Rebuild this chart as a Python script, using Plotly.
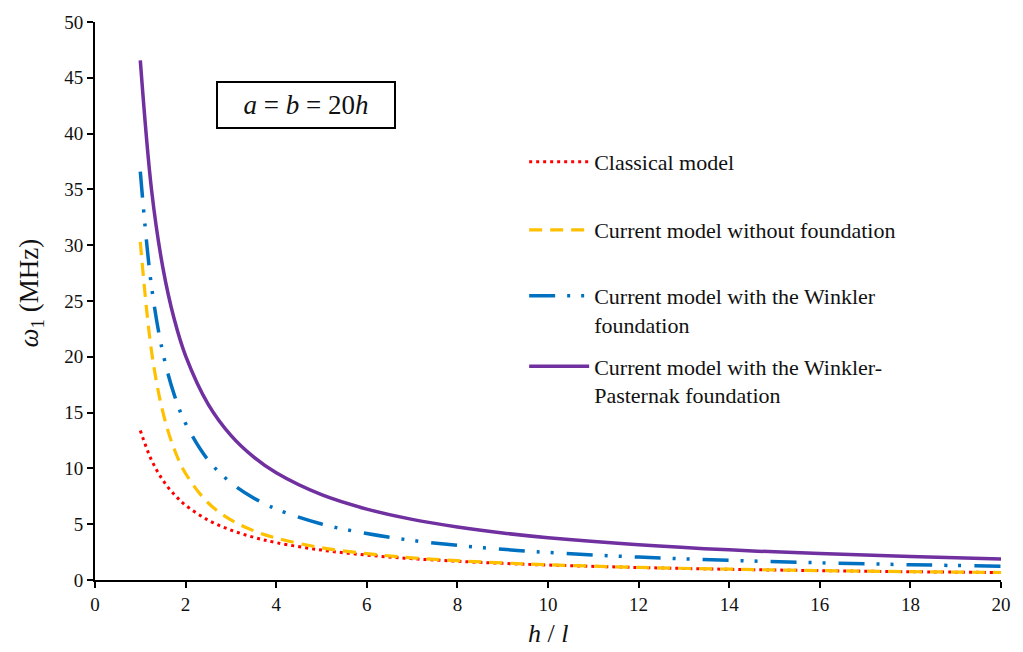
import plotly.graph_objects as go

# h/l values
x_vals = [1, 1.25, 1.5, 1.75, 2, 2.5, 3, 3.5, 4, 5, 6, 7, 8, 9, 10, 12, 14, 16, 18, 20]

classical = [13.40, 10.72, 8.93, 7.66, 6.70, 5.36, 4.47, 3.83, 3.35, 2.68, 2.23, 1.91,
             1.68, 1.49, 1.34, 1.12, 0.96, 0.84, 0.74, 0.67]
no_foundation = [30.29, 20.43, 15.02, 11.72, 9.54, 6.90, 5.39, 4.42, 3.76, 2.89, 2.36, 1.99,
                 1.73, 1.53, 1.37, 1.13, 0.97, 0.84, 0.75, 0.67]
winkler = [36.60, 26.22, 20.33, 16.59, 14.02, 10.73, 8.72, 7.35, 6.36, 5.02, 4.16, 3.55,
           3.10, 2.75, 2.47, 2.05, 1.76, 1.54, 1.37, 1.23]
pasternak = [46.56, 34.89, 27.95, 23.36, 20.09, 15.74, 12.96, 11.03, 9.60, 7.64, 6.35, 5.43,
             4.75, 4.21, 3.79, 3.16, 2.70, 2.37, 2.10, 1.89]

names = ["Classical model",
         "Current model without foundation",
         "Current model with the Winkler<br>foundation",
         "Current model with the Winkler-<br>Pasternak foundation"]
colors = ["#FF0000", "#FFC000", "#0070C0", "#7030A0"]
dashes = ["3px,4px", "13px,8px", "26px,12px,3px,11px,3px,13px", "solid"]
widths = [3, 3.2, 3.5, 3.5]
series = [classical, no_foundation, winkler, pasternak]
legend_ids = ["legend", "legend2", "legend3", "legend4"]

FONT = "Times New Roman, Liberation Serif, Tinos, Noto Serif, DejaVu Serif, serif"

fig = go.Figure()
for name, col, d, w, ys, lg in zip(names, colors, dashes, widths, series, legend_ids):
    fig.add_trace(go.Scatter(
        x=x_vals, y=ys, mode="lines", name=name,
        line=dict(color=col, width=w, dash=d, shape="spline", smoothing=1.0),
        legend=lg,
    ))

# plot area: x 95..1007 px, y 14..580 px
leg_common = dict(font=dict(family=FONT, size=22, color="#111111"),
                  bgcolor="rgba(0,0,0,0)", borderwidth=0, itemwidth=60,
                  xanchor="left", yanchor="middle", valign="top")
lx = (527 - 95) / 912
fig.update_layout(
    legend=dict(x=lx, y=(580 - 156) / 566, **leg_common),
    legend2=dict(x=lx, y=(580 - 225) / 566, **leg_common),
    legend3=dict(x=lx, y=(580 - 306.5) / 566, **leg_common),
    legend4=dict(x=lx, y=(580 - 378) / 566, **leg_common),
)

fig.update_layout(
    width=1023, height=652,
    margin=dict(l=95, r=16, t=14, b=72),
    paper_bgcolor="white", plot_bgcolor="white",
    font=dict(family=FONT, color="#111111"),
    showlegend=True,
    xaxis=dict(range=[0, 20], dtick=2, showgrid=False, zeroline=False,
               showline=True, linecolor="black", linewidth=2,
               ticks="outside", ticklen=6, tickwidth=2, tickcolor="black",
               tickfont=dict(family=FONT, size=19, color="#111111")),
    yaxis=dict(range=[0, 50], dtick=5, showgrid=False, zeroline=False,
               showline=True, linecolor="black", linewidth=2,
               ticks="outside", ticklen=6, tickwidth=2, tickcolor="black",
               tickfont=dict(family=FONT, size=19, color="#111111")),
)

fig.add_annotation(
    xref="paper", yref="paper", x=(551 - 95) / 912, y=(580 - 634) / 566,
    text="<i>h</i> / <i>l</i>", showarrow=False,
    font=dict(family=FONT, size=26, color="#111111"),
    xanchor="center", yanchor="middle")
fig.add_annotation(
    xref="paper", yref="paper", x=(31 - 95) / 912, y=(580 - 289) / 566,
    text="<i>ω</i><sub>1</sub> (MHz)", showarrow=False, textangle=-90,
    font=dict(family=FONT, size=27, color="#111111"),
    xanchor="center", yanchor="middle")
fig.add_annotation(
    xref="paper", yref="paper", x=(307 - 95) / 912, y=(580 - 98) / 566,
    text="<i>a</i> = <i>b</i> = 20<i>h</i>", showarrow=False,
    font=dict(family=FONT, size=27, color="#111111"),
    bordercolor="black", borderwidth=2, borderpad=0, bgcolor="white",
    width=176, height=44, xanchor="center", yanchor="middle")

fig.write_html("out.html")
